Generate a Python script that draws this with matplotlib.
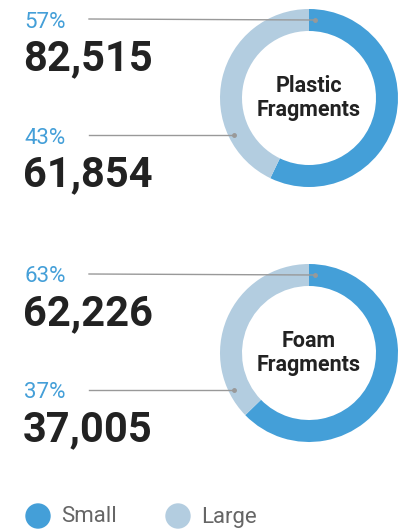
import matplotlib.pyplot as plt
from matplotlib.patches import Circle

# data
categories = ["Small", "Large"]
groups = ["Plastic\nFragments", "Foam\nFragments"]
plastic = [82515, 61854]
foam = [62226, 37005]
colors = ["#449fd8", "#b3cde0"]

W, H = 401, 531
fig = plt.figure(figsize=(W / 100, H / 100), dpi=100)
ax = fig.add_axes([0, 0, 1, 1])

def py(y):
    # pixel y (from top) -> data y
    return H - y

panels = [(plastic, groups[0], 98), (foam, groups[1], 353)]
cx, r_out, ring = 309, 89, 22

for values, label, cy in panels:
    total = sum(values)
    ax.pie(values, colors=colors, startangle=90, counterclock=False,
           radius=r_out, center=(cx, py(cy)), frame=True,
           wedgeprops=dict(width=ring, edgecolor="none"))
    ax.text(cx, py(cy), label, ha="center", va="center", fontsize=15.5,
            fontweight="bold", color="#222222", family="Roboto", linespacing=1.1)

    pcts = [round(v / total * 100) for v in values]
    # leader lines: (text y, end x, end y)
    leaders = [(cy - 79, cx + 6, cy - 78), (cy + 37, cx - 75, cy + 37)]
    for i, (v, p) in enumerate(zip(values, pcts)):
        ly, ex, ey = leaders[i]
        ax.plot([89, ex], [py(ly), py(ey)], color="#999999", lw=1, zorder=5)
        ax.plot([ex], [py(ey)], "o", ms=2.5, color="#999999", zorder=5)
        ax.text(24, py(ly + 3), f"{p}%", ha="left", va="center", fontsize=16,
                color="#449fd8", family="Roboto")
        ax.text(23, py(ly + 40), f"{v:,}", ha="left", va="center", fontsize=30,
                fontweight="bold", color="#222222", family="Roboto")

# legend
for x, name, c in [(38, categories[0], colors[0]), (178, categories[1], colors[1])]:
    ax.add_patch(Circle((x, py(516)), 12, color=c))
    ax.text(x + 23, py(517), name, ha="left", va="center", fontsize=16,
            color="#666666", family="Roboto")

ax.set_xlim(0, W)
ax.set_ylim(0, H)
ax.set_aspect("equal")
ax.axis("off")

plt.savefig("out.png", dpi=100)
